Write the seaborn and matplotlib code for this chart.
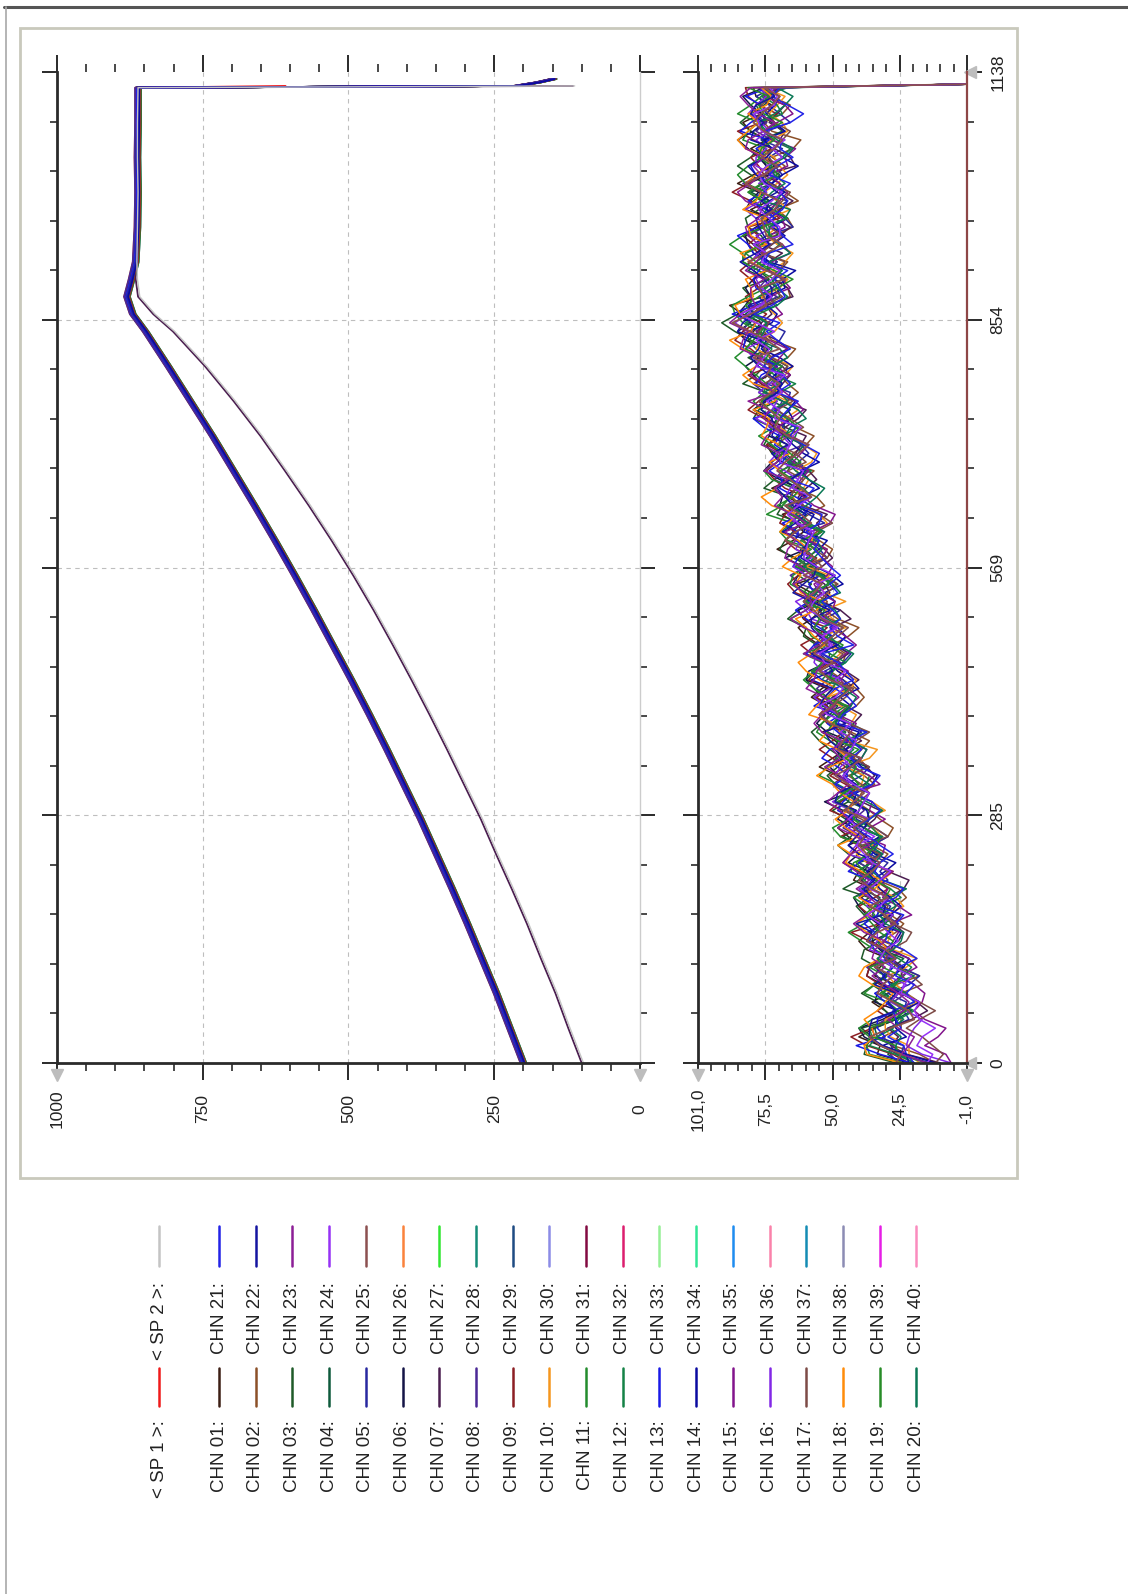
import numpy as np
import pandas as pd
import matplotlib
matplotlib.use("Agg")
import matplotlib.pyplot as plt
from matplotlib import ticker
from matplotlib.lines import Line2D
from matplotlib.patches import Rectangle
import seaborn as sns

sns.set_theme(style="white")
plt.rcParams['font.family'] = ['Liberation Sans', 'DejaVu Sans']

# ---- legend / series names and colours ----
SETPOINTS = ["< SP 1 >:", "< SP 2 >:"]
SP_COLORS = ['#F01A1A', '#C4C4C4']
CHANNELS = ["CHN %02d:" % i for i in range(1, 41)]
CH_COLORS = ['#3C1E14', '#8C5028', '#1E5A28', '#0F5A3C', '#2828A0', '#141446', '#4B1E50', '#4B2896',
             '#8C1E23', '#F5961E', '#238C2D', '#148246', '#1919E6', '#0A0AA0', '#82148C', '#8228E6',
             '#7D4B46', '#FF8C0A', '#288C28', '#0A7855', '#2323E6', '#1414A0', '#8C1E96', '#9632F5',
             '#8C5050', '#FA823C', '#32E632', '#148C78', '#1E4B82', '#8C8CE6', '#820A41', '#DC1E6E',
             '#96F096', '#32E696', '#1E8CF0', '#FA82AA', '#148CB4', '#8C8CB4', '#E61EE6', '#FA8CBE']

# ---- upper graph (temperature) ----
T_TOP = [0, 40, 80, 120, 160, 200, 240, 280, 320, 360, 400, 440, 480, 520, 560, 600,
         640, 680, 720, 760, 800, 840, 860, 880, 900, 920, 960, 1000, 1040, 1080, 1120,
         1122, 1126, 1130]
MAIN = [200, 223, 246, 271, 296, 322, 349, 376, 405, 434, 464, 495, 527, 559, 592, 626,
        661, 697, 733, 771, 809, 848, 870, 880, 872, 865, 862, 861, 862, 861, 861,
        212, 175, 148]
LAG = [97, 120, 142, 167, 191, 217, 244, 270, 299, 328, 358, 389, 421, 454, 489, 526,
       565, 606, 648, 694, 743, 798, 832, 858, 862, 863, 862, 861, 862, 862, 861,
       112]
SP1_TAIL = [608]
LAG_CHANNEL = 6
TOP_OFFS = [2, -3, 4, -1, 0, 3, -2, 5, -4, 1, -5, 2, 0, -2, 3, -1, 4, -3, 1, -4,
            2, 0, -1, 3, -2, 5, -3, 1, -5, 4, 0, -2, 2, -4, 3, -1, 1, -3, 4, -2]
TOP_DRAWN_LAST = [20, 12, 15, 4, 7, 13]

# ---- lower graph ----
T_LOW_END = 1124
LOW_TREND = [18, 27, 31, 32, 30, 27, 25, 26, 27, 28, 28,
             29, 29, 30, 30, 31, 31, 31, 32, 32, 33,
             34, 35, 36, 36, 37, 38, 39, 39, 40, 41,
             42, 42, 43, 44, 44, 45, 46, 46, 47, 48,
             48, 49, 49, 50, 51, 51, 52, 52, 53, 53,
             54, 54, 55, 56, 56, 57, 58, 58, 59, 60,
             61, 61, 62, 63, 63, 64, 65, 65, 66, 67,
             67, 68, 69, 70, 70, 71, 72, 73, 73, 74,
             75, 76, 77, 78, 79, 79, 78, 76, 74, 73,
             74, 76, 77, 76, 75, 73, 72, 73, 74, 75,
             76, 75, 74, 73, 74, 75, 76, 75, 74, 74,
             75, 74]
NOISE = [
    [0, 3, -2, 5, 1, -4, 2, 6, -1, -5, 3, 0, -3, 4, 7, 2, -2, -6, 1, 4,
     -1, 5, 2, -3, -7, 0, 3, 6, 1, -2, 4, -4, -1, 2, 8, 3, -3, 0, 5, -5,
     -2, 1, 6, 2, -4, -8, -1, 3, 0, 4, 7, 1, -3, 2, -1, 5, -6, -2, 3, 9,
     2, -3, 0, 4, -5, 1, 6, -2, -7, 0, 3, 5, -1, -4, 2, 7, 1, -3, 4, -2,
     -6, 0, 5, 3, -1, -5, 2, 8, -3, 1, 4, -2, -8, -4, 1, 6, 3, -1, 5, -3,
     0, 7, 2, -5, -1, 4, -3, 2, 6, 0, -4, 1, 3],
    [2, -1, -5, -3, 4, 6, 1, -2, 3, -4, -7, -2, 1, 5, 2, -3, 0, 6, 3, -1,
     -5, 2, 7, 4, -2, -6, -3, 1, 5, 0, -2, 3, -4, -8, -1, 4, 2, 6, -3, 1,
     5, -1, -4, 0, 3, 8, 2, -5, -2, 4, 1, -3, 6, 3, -2, -6, 0, 4, 7, 1,
     -4, -1, 2, 5, -3, -7, 1, 3, 0, 6, 2, -5, -2, 4, 1, -4, 5, 9, 2, -3,
     0, 3, -6, -2, 4, 1, -1, 5, -4, -8, 2, 6, 0, -3, 3, 7, -2, -5, 1, 4,
     -1, 2, 5, -4, 0, 3, -6, 1, 4, -2, 6, 0, -3],
    [-3, 1, 4, 7, 2, -2, -5, 0, 3, 5, 1, -4, -6, -1, 3, 2, 8, 4, -2, 0,
     -3, 1, -5, 2, 6, 3, -1, -4, 4, 1, -2, 7, 2, -3, -6, 0, 4, 1, -1, 5,
     3, -5, -2, 6, 1, -3, 2, -7, -1, 4, 8, 2, -2, 0, 5, -4, -1, 3, 1, -6,
     -3, 4, 6, 0, -2, 2, -5, 1, 7, 3, -1, -4, 0, 5, 2, -3, -8, -2, 3, 6,
     1, -2, 4, -5, 0, 2, 7, 1, -4, -1, 5, 3, -3, 0, -6, 2, 4, -1, 8, 1,
     -2, -5, 3, 6, 0, -3, 1, 5, -2, -4, 2, 4, -1],
    [4, 6, 2, -1, -4, 1, 5, 3, -2, -6, 0, 2, 5, -3, -1, 4, -5, -2, 1, 7,
     3, -1, 0, -4, 2, 6, 1, -3, -7, -2, 3, 5, 0, -2, 4, 1, -6, -3, 2, 8,
     1, -1, 3, -4, -2, 5, 2, 0, 6, -3, -5, 1, 4, -1, 2, -7, -2, 3, 5, 0,
     -3, 6, 2, -4, 1, 4, -1, -5, 0, 3, 7, 2, -2, -6, 1, 5, 3, -1, -4, 2,
     0, 6, -3, -1, 4, -5, 2, 8, 1, -2, -4, 3, 5, -2, 0, -7, 1, 4, 2, -1,
     3, -3, 6, 1, -5, 0, 4, -2, 2, 5, -1, -4, 1],
    [-5, -2, 1, 3, 0, 4, -1, -3, 5, 2, -2, 6, 1, -4, -7, -1, 3, 0, 5, 2,
     -3, 4, -2, 1, 7, 3, -5, -1, 2, -4, 6, 0, -3, 1, 4, -2, 5, 2, -6, -1,
     3, 7, 1, -2, 0, -5, 4, 2, -3, 1, -1, 5, -4, -8, -2, 3, 1, 6, 0, -3,
     2, -1, 4, 7, -2, 0, -4, 3, 1, -6, -2, 5, 3, 0, -3, 6, -1, -5, 2, 4,
     1, -4, 0, 3, 8, 2, -3, -1, 5, -2, -6, 1, 4, -1, 2, -4, 6, 3, -2, 0,
     5, -3, -1, 2, 7, -5, 0, 3, -2, 1, 4, -3, 0],
    [1, 5, 3, -3, -6, -1, 2, 4, 0, -2, 6, 3, -1, 2, -5, -3, 1, 4, 7, 0,
     -4, -1, 3, 5, -2, 1, -6, -3, 2, 6, 0, -4, 4, 2, -1, 5, 3, -5, -2, 1,
     -7, -2, 2, 4, 6, -1, 1, -3, 4, 0, 3, -5, -1, 5, 2, 8, -2, -4, 1, 3,
     -2, 0, -6, 2, 5, 1, -3, 4, -1, 6, 4, -3, 1, -2, -7, 0, 3, 5, -4, 1,
     5, 2, -1, 6, -3, -1, 4, -6, 0, 3, 2, -5, 1, 7, 3, -2, -4, 2, 0, -3,
     6, 1, -4, 0, 3, 5, -1, -6, 2, 4, -2, 3, 1],
    [-2, -6, -3, 2, 5, 1, -1, 4, 6, 0, -3, 1, -2, 4, 2, -5, -8, -1, 3, 5,
     2, -1, 4, 0, -3, 3, 7, 1, -4, -2, 1, 5, -2, 3, 0, -4, 2, 6, 1, -5,
     -1, 3, -3, 1, 5, 2, -6, -2, 4, 0, 2, 6, 1, -3, -1, 4, -2, 0, -5, 3,
     5, 1, -4, -1, 6, 2, 0, -3, 4, -2, -5, 3, 7, 1, -2, 0, 4, -4, -1, 5,
     3, -1, 2, -6, -2, 4, 1, 3, -3, 6, 0, -2, 5, 2, -4, 1, -1, 6, -5, -2,
     3, 0, -3, 4, 2, -1, 5, 1, -4, 0, 2, -2, 4],
    [3, 0, -4, 1, 6, 2, -3, -1, 2, 7, 1, -2, 4, -1, -6, 0, 3, 5, -3, 2,
     6, 1, -2, -5, 1, 4, 0, 3, -1, -4, 2, -3, 5, 8, 1, -2, 0, -5, 3, 4,
     -1, 2, -4, 0, 6, 3, -2, 1, -7, -1, 4, 2, 0, -3, 3, 6, 1, -4, 2, -1,
     -3, 5, 2, 0, -2, -6, 3, 1, 5, -2, 0, -4, 6, 2, -1, 3, -5, 1, 7, 0,
     -2, 4, 1, -3, 2, -1, 5, -4, -2, 3, 6, 0, -5, 1, 4, 2, -3, 0, -6, 2,
     4, 7, -1, -3, 1, 5, -2, 3, 0, -5, 1, 3, -2],
]
SHIFTS = [0, 17, 35, 52, 70, 88, 5, 23, 41, 60, 78, 96, 11, 29, 47, 65, 83, 101, 14, 38,
          56, 74, 92, 8, 26, 44, 62, 80, 98, 20, 32, 50, 68, 86, 104, 2, 19, 57, 75, 93]
LOW_OFFS = [3, -5, 5, 0, -3, 4, -5, 1, 4, -4, 5, -2, 3, -4, -5, 2, -3, 5, 0, -4,
            -5, 2, 5, -1, 0, 2, -3, 1, -1, 2, 0, -2, 3, -1, 1, -2, 0, 2, -1, 1]
EARLY_DIP = [-8, -12, -15, -15, -13, -10, -8, -6, -5, -4, -3, -2, -2, -1, -1, 0]
DIP_CHANNELS = [14, 15, 22, 23, 16]
LOW_VISIBLE = 25          # channels 01..25 have a reading in the lower graph
LAST_DRAWN = 24

TOP_TICKS = [1000, 750, 500, 250, 0]
TOP_TICKLABELS = ['1000', '750', '500', '250', '0']
LOW_TICKS = [101, 75.5, 50, 24.5, -1]
LOW_TICKLABELS = ['101,0', '75,5', '50,0', '24,5', '-1,0']
TIME_TICKS = [0, 284.5, 569, 853.5, 1138]
TIME_TICKLABELS = ['0', '285', '569', '854', '1138']

# ---- build tables ----
rows = []
for k, name in enumerate(CHANNELS):
    base = LAG if k == LAG_CHANNEL else MAIN
    off = 3 if k == LAG_CHANNEL else TOP_OFFS[k]
    for t, v in zip(T_TOP, base):
        rows.append((name, t, v + off))
for t, v in zip(T_TOP, MAIN[:31] + SP1_TAIL):
    rows.append((SETPOINTS[0], t, v))
for t, v in zip(T_TOP, LAG):
    rows.append((SETPOINTS[1], t, v))
df_top = pd.DataFrame(rows, columns=['series', 't', 'value'])

t_low = list(np.arange(0, 1121, 10)) + [T_LOW_END]
rows = []
for k, name in enumerate(CHANNELS[:LOW_VISIBLE]):
    noise = np.roll(np.array(NOISE[k % 8]), SHIFTS[k])
    vals = np.array(LOW_TREND, dtype=float) + noise + LOW_OFFS[k]
    if k in DIP_CHANNELS:
        vals[:len(EARLY_DIP)] += EARLY_DIP
    vals = list(vals) + [-1]
    for t, v in zip(t_low, vals):
        rows.append((name, t, v))
df_low = pd.DataFrame(rows, columns=['series', 't', 'value'])

palette = dict(zip(CHANNELS, CH_COLORS))
palette.update(dict(zip(SETPOINTS, SP_COLORS)))

# ---- figure ----
W, H = 1128, 1594
fig = plt.figure(figsize=(W / 100, H / 100), dpi=100)
fig.patch.set_facecolor('white')


def box(x0, y0, x1, y1):
    return [x0 / W, 1 - y1 / H, (x1 - x0) / W, (y1 - y0) / H]


def fig_line(x0, y0, x1, y1, **kw):
    fig.add_artist(Line2D([x0 / W, x1 / W], [1 - y0 / H, 1 - y1 / H],
                          transform=fig.transFigure, **kw))


# window border and chart frame
fig_line(4, 7, W, 7, color='#555555', lw=2.2)
fig_line(6, 7, 6, H, color='#A8A8A8', lw=1.2)
fig.add_artist(Rectangle((20 / W, 1 - 1178 / H), (1017 - 20) / W, (1178 - 28) / H,
                         transform=fig.transFigure, fill=False, ec='#C9C9BC', lw=2))

ax1 = fig.add_axes(box(57, 72, 640, 1063))
ax2 = fig.add_axes(box(698, 72, 967, 1063))

# SP 1 under the bundle, darker bluish channels on top of it, SP 2 last
sns.lineplot(data=df_top[df_top.series == SETPOINTS[0]], x='value', y='t',
             color=SP_COLORS[0], estimator=None, sort=False, orient='y', lw=1.3, ax=ax1)
last = [CHANNELS[i] for i in TOP_DRAWN_LAST]
ch_order = [c for c in CHANNELS[::-1] if c not in last] + last
sns.lineplot(data=df_top[df_top.series.isin(CHANNELS)], x='value', y='t', hue='series',
             palette=palette, hue_order=ch_order, estimator=None, sort=False, orient='y',
             legend=False, lw=1.3, ax=ax1)
sns.lineplot(data=df_top[df_top.series == SETPOINTS[1]], x='value', y='t',
             color=SP_COLORS[1], estimator=None, sort=False, orient='y', lw=1.0, ax=ax1)

low_names = CHANNELS[:LOW_VISIBLE]
first = [c for i, c in enumerate(low_names) if i != LAST_DRAWN]
sns.lineplot(data=df_low[df_low.series.isin(first)], x='value', y='t', hue='series',
             palette=palette, hue_order=first, estimator=None, sort=False, orient='y',
             legend=False, lw=1.1, ax=ax2)
sns.lineplot(data=df_low[df_low.series == low_names[LAST_DRAWN]], x='value', y='t',
             color=CH_COLORS[LAST_DRAWN], estimator=None, sort=False, orient='y',
             lw=1.3, ax=ax2)

for ax, lim, ticks, labels in [(ax1, (1000, 0), TOP_TICKS, TOP_TICKLABELS),
                               (ax2, (101, -1), LOW_TICKS, LOW_TICKLABELS)]:
    ax.set_facecolor('white')
    ax.set_xlim(*lim)
    ax.set_ylim(0, 1138)
    ax.set_xlabel('')
    ax.set_ylabel('')
    ax.set_xticks(ticks)
    ax.set_xticklabels(labels, rotation=90, va='center', ha='center')
    ax.xaxis.set_minor_locator(ticker.FixedLocator(np.linspace(lim[1], lim[0], 21)))
    ax.set_yticks(TIME_TICKS)
    ax.yaxis.set_minor_locator(ticker.FixedLocator(np.linspace(0, 1138, 21)))
    ax.grid(False)
    for v in ticks[1:-1]:
        ax.axvline(v, color='#BEBEBE', lw=0.8, ls=(0, (4, 4)), zorder=0)
    for v in TIME_TICKS[1:-1]:
        ax.axhline(v, color='#BEBEBE', lw=0.8, ls=(0, (4, 4)), zorder=0)
    ax.tick_params(axis='x', which='major', direction='out', length=12, width=1.4,
                   color='#2A2A2A', top=True, bottom=True, pad=21, labelsize=12.5,
                   labelcolor='#222222')
    ax.tick_params(axis='x', which='minor', direction='out', length=6, width=1.2,
                   color='#2A2A2A', top=True, bottom=True)
    ax.tick_params(axis='y', which='major', direction='out', length=11, width=1.4,
                   color='#2A2A2A', left=True, right=True, labelleft=False,
                   labelright=False)
    ax.tick_params(axis='y', which='minor', direction='out', length=5, width=1.2,
                   color='#2A2A2A', left=True, right=True)
    for s in ['left', 'bottom']:
        ax.spines[s].set_color('#2A2A2A')
        ax.spines[s].set_linewidth(2)
    ax.spines['top'].set_visible(False)
    # slider tabs at the ends of the axes
    for xa in (0, 1):
        ax.plot([xa], [-0.012], marker='v', ms=8, color='#BDBDBD', transform=ax.transAxes,
                clip_on=False)

ax1.spines['right'].set_color('#CCCCCC')
ax1.spines['right'].set_linewidth(1)
ax2.spines['right'].set_color('#8E4646')
ax2.spines['right'].set_linewidth(1.6)

ax2.set_yticklabels(TIME_TICKLABELS, rotation=90, va='center')
ax2.tick_params(axis='y', which='major', labelright=True, pad=6, labelsize=12.5,
                labelcolor='#222222')
ax2.plot([1.012], [0], marker='<', ms=8, color='#BDBDBD', transform=ax2.transAxes,
         clip_on=False)
ax2.plot([1.012], [1], marker='<', ms=8, color='#BDBDBD', transform=ax2.transAxes,
         clip_on=False)

# legend: two columns of short vertical lines with rotated labels
xs = [159] + [219 + 36.7 * i for i in range(20)]
col_a = [(SETPOINTS[0], SP_COLORS[0])] + list(zip(CHANNELS[:20], CH_COLORS[:20]))
col_b = [(SETPOINTS[1], SP_COLORS[1])] + list(zip(CHANNELS[20:], CH_COLORS[20:]))
for col, (y0, y1, ylab) in [(col_a, (1368, 1406, 1420)), (col_b, (1226, 1266, 1282))]:
    for (label, color), x in zip(col, xs):
        fig_line(x, y0, x, y1, color=color, lw=1.8)
        fig.text(x / W, 1 - ylab / H, label, rotation=90, ha='center', va='top',
                 fontsize=13.5, color='#222222')

fig.savefig('out.png', dpi=100)
